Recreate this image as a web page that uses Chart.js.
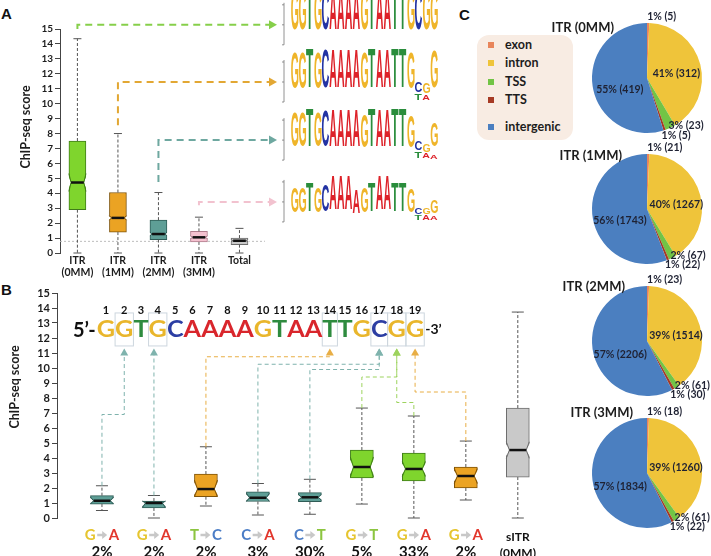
<!DOCTYPE html>
<html>
<head>
<meta charset="utf-8">
<script src="https://cdn.jsdelivr.net/npm/chart.js@4.4.1/dist/chart.umd.min.js"></script>
<style>
  body { margin: 0; background: #fff; font-family: Lato, sans-serif; }
  #page { position: relative; width: 711px; height: 556px; overflow: hidden; }
  canvas { position: absolute; }
  .tag { position: absolute; font: bold 15px "Liberation Sans", Arial, sans-serif; color: #111; }
  #legend { position: absolute; left: 477px; top: 35px; width: 96px; height: 105px; background: #f8ece3; border-radius: 12px; }
  .item { position: absolute; left: 28px; font: bold 12.5px Lato, sans-serif; color: #1d1d1d; line-height: 14px; }
  .item i { position: absolute; left: -17px; top: 4px; width: 6px; height: 6px; }
</style>
</head>
<body>
<div id="page">
  <div class="tag" style="left:1px;top:5px">A</div>
  <div class="tag" style="left:1px;top:281px">B</div>
  <div class="tag" style="left:459px;top:6px">C</div>
  <div id="legend"></div>
</div>
<script>
// ---- panel A: ChIP-seq score per mismatch group
const labelsA = ['ITR (0MM)', 'ITR (1MM)', 'ITR (2MM)', 'ITR (3MM)', 'Total'];
const lowA = [0, 0, 0, 0, 0];
const q1A = [2.9, 1.4, 0.9, 0.74, 0.56];
const medA = [4.72, 2.35, 1.27, 1.05, 0.82];
const q3A = [7.5, 4.05, 2.2, 1.45, 1.0];
const highA = [14.35, 8.0, 4.05, 2.4, 1.65];
const notchA = [0.6, 0.15, 0.12, 0.1, 0.06];
const cutoffA = 0.78;
const arrowFromA = [15.0, 8.55, 4.76, 3.2];
const arrowLevelA = [15.28, 11.45, 7.56, 3.42];

// sequence logos (bits, max 2) for the four groups
const logoMotif = 'GGTGCAAAAGTAATTGCGG';
const logoBits = [
  [2, 2, 2, 2, 2, 2, 2, 2, 2, 2, 2, 2, 2, 2, 2, 2, 2, 2, 2],
  [1.8, 1.8, 1.95, 1.8, 1.9, 1.85, 1.85, 1.85, 1.85, 1.8, 1.95, 1.85, 1.85, 1.95, 1.95, 1.8, 0.55, 0.55, 1.85],
  [1.7, 1.7, 1.85, 1.7, 1.75, 1.8, 1.8, 1.8, 1.8, 1.65, 1.85, 1.8, 1.8, 1.85, 1.85, 1.6, 0.45, 0.4, 1.2],
  [1.25, 1.25, 1.4, 1.25, 1.3, 1.7, 1.7, 1.7, 1.15, 1.25, 1.4, 1.7, 1.7, 1.4, 1.4, 1.2, 0.35, 0.35, 0.65]
];
const logoMinorBase = ['T', 'A', 'A'];          // under positions 17, 18, 19
const logoMinorBits = [[0, 0, 0], [0.3, 0.25, 0], [0.3, 0.25, 0.2], [0.25, 0.25, 0.2]];

// ---- panel B: single mismatches
const seqLetters = 'GGTGCAAAAGTAATTGCGG'.split('');
const mutFrom = ['G', 'G', 'T', 'C', 'C', 'G', 'G', 'G'];
const mutTo = ['A', 'A', 'C', 'A', 'T', 'T', 'A', 'A'];
const mutPct = ['2%', '2%', '2%', '3%', '30%', '5%', '33%', '2%'];
const mutPos = [2, 4, 14, 17, 17, 18, 18, 19];
const turnB = [6.9, null, 10.75, 10.25, 9.9, 9.4, 7.7, 8.4];
const lowB = [0.5, 0, 0.8, 0.2, 0.25, 0.93, 0, 1.2, 0];
const q1B = [0.93, 0.67, 1.42, 1.1, 1.09, 2.67, 2.47, 2.0, 2.73];
const medB = [1.15, 1.0, 1.93, 1.35, 1.38, 3.4, 3.27, 2.8, 4.53];
const q3B = [1.49, 1.13, 2.93, 1.75, 1.69, 4.53, 4.33, 3.4, 7.33];
const highB = [2.15, 1.5, 4.75, 2.3, 2.58, 7.33, 6.8, 5.13, 13.73];
const notchB = [0.25, 0.3, 0.6, 0.3, 0.2, 0.67, 0.5, 0.5, 0.55];

// ---- panel C: genomic annotation
const pieCategories = ['exon', 'intron', 'TSS', 'TTS', 'intergenic'];
const pieTitles = ['ITR (0MM)', 'ITR (1MM)', 'ITR (2MM)', 'ITR (3MM)'];
const counts0MM = [5, 312, 23, 5, 419];
const counts1MM = [21, 1267, 67, 22, 1743];
const counts2MM = [23, 1514, 61, 30, 2206];
const counts3MM = [18, 1260, 61, 22, 1834];
const pct0MM = [1, 41, 3, 1, 55];
const pct1MM = [1, 40, 2, 1, 56];
const pct2MM = [1, 39, 2, 1, 57];
const pct3MM = [1, 39, 2, 1, 57];

// colours
const GREEN = ['#7fd52d', '#3f7d18'], ORANGE = ['#eba323', '#7f5309'], TEAL = ['#5e9e96', '#2f5c56'];
const PINK = ['#f4c1cf', '#b07c8c'], GRAY = ['#c9c9c9', '#6d6d6d'];
const boxColA = [GREEN, ORANGE, TEAL, PINK, GRAY];
const arrowColA = ['#86cf4a', '#e2a733', '#6ea8a0', '#f2c2cf'];
const boxColB = [TEAL, TEAL, ORANGE, TEAL, TEAL, GREEN, GREEN, ORANGE, GRAY];
const arrowColB = ['#7fb3ad', '#7fb3ad', '#e8ae45', '#7fb3ad', '#7fb3ad', '#9dd35e', '#9dd35e', '#e8ae45'];
const logoCol = { G: '#efb52a', T: '#2a8d3c', C: '#2333a3', A: '#dd2229' };
const seqCol = { G: '#e9b62c', T: '#2e8b3e', C: '#2c3ea3', A: '#d9262c' };
const mutCol = { G: '#e6c52f', T: '#8cc540', C: '#4b7dc6', A: '#e2372d' };
const pieColors = ['#e8855b', '#efc43a', '#72c445', '#a63a24', '#4b7fc0'];

Chart.defaults.font.family = 'Lato, "Open Sans", sans-serif';
Chart.defaults.animation = false;
Chart.defaults.responsive = false;
Chart.defaults.plugins.legend.display = false;
Chart.defaults.plugins.tooltip.enabled = false;

function makeCanvas(left, top, w, h) {
  const c = document.createElement('canvas');
  c.width = w; c.height = h;
  c.style.left = left + 'px'; c.style.top = top + 'px';
  c.style.width = w + 'px'; c.style.height = h + 'px';
  document.getElementById('page').appendChild(c);
  return c;
}

// whiskers, notches and median on top of the floating bars
function drawBoxDetails(chart, s) {
  const ctx = chart.ctx, y = chart.scales.y;
  chart.getDatasetMeta(0).data.forEach((bar, i) => {
    const cx = bar.x, hw = bar.width / 2, l = cx - hw, r = cx + hw, d = hw * s.depth;
    const yTop = y.getPixelForValue(s.q3[i]), yBot = y.getPixelForValue(s.q1[i]);
    const yMed = y.getPixelForValue(s.med[i]);
    const nT = Math.max(yTop, y.getPixelForValue(s.med[i] + s.notch[i]));
    const nB = Math.min(yBot, y.getPixelForValue(s.med[i] - s.notch[i]));
    const yHi = y.getPixelForValue(s.high[i]), yLo = y.getPixelForValue(s.low[i]);
    ctx.save();
    ctx.strokeStyle = '#555'; ctx.lineWidth = 1;
    ctx.setLineDash([3, 2]);
    ctx.beginPath();
    ctx.moveTo(cx, yTop); ctx.lineTo(cx, yHi);
    ctx.moveTo(cx, yBot); ctx.lineTo(cx, yLo);
    ctx.stroke();
    ctx.setLineDash([]);
    ctx.beginPath();
    ctx.moveTo(cx - s.capW / 2, yHi); ctx.lineTo(cx + s.capW / 2, yHi);
    ctx.moveTo(cx - s.capW / 2, yLo); ctx.lineTo(cx + s.capW / 2, yLo);
    ctx.stroke();
    // cut the notch
    ctx.fillStyle = '#fff';
    ctx.beginPath();
    ctx.moveTo(l - 1.5, nT); ctx.lineTo(l + d, yMed); ctx.lineTo(l - 1.5, nB); ctx.closePath();
    ctx.moveTo(r + 1.5, nT); ctx.lineTo(r - d, yMed); ctx.lineTo(r + 1.5, nB); ctx.closePath();
    ctx.fill();
    ctx.strokeStyle = s.colors[i][1];
    ctx.beginPath();
    ctx.moveTo(l, nT); ctx.lineTo(l + d, yMed); ctx.lineTo(l, nB);
    ctx.moveTo(r, nT); ctx.lineTo(r - d, yMed); ctx.lineTo(r, nB);
    ctx.stroke();
    ctx.strokeStyle = '#111'; ctx.lineWidth = 2.5;
    ctx.beginPath(); ctx.moveTo(l + d, yMed); ctx.lineTo(r - d, yMed); ctx.stroke();
    ctx.restore();
  });
}

function drawGlyph(ctx, ch, x, yBottom, w, h, color) {
  if (h <= 0) return;
  ctx.save();
  ctx.font = 'bold 100px "Liberation Sans", Arial, sans-serif';
  const m = ctx.measureText(ch);
  const gw = m.actualBoundingBoxLeft + m.actualBoundingBoxRight;
  const gh = m.actualBoundingBoxAscent + m.actualBoundingBoxDescent;
  ctx.translate(x, yBottom);
  ctx.scale(w / gw, h / gh);
  ctx.fillStyle = color;
  ctx.textAlign = 'left'; ctx.textBaseline = 'alphabetic';
  ctx.fillText(ch, m.actualBoundingBoxLeft, -m.actualBoundingBoxDescent);
  ctx.restore();
}

function drawLogo(ctx, row, x0, yc) {
  const full = 40, colW = 7.75, base = yc + 20;
  ctx.save();
  ctx.strokeStyle = '#777'; ctx.lineWidth = 0.8;
  ctx.beginPath();
  ctx.moveTo(x0, yc - 22); ctx.lineTo(x0, base);
  [0, 1, 2].forEach(b => { ctx.moveTo(x0 - 2, base - b * full / 2); ctx.lineTo(x0, base - b * full / 2); });
  ctx.stroke();
  ctx.restore();
  for (let p = 0; p < logoMotif.length; p++) {
    const lx = x0 + 3 + p * colW;
    let yb = base;
    if (p >= 16) {
      const mh = logoMinorBits[row][p - 16] * full / 2;
      const mc = logoMinorBase[p - 16];
      drawGlyph(ctx, mc, lx, yb, colW - 0.6, mh, logoCol[mc]);
      yb -= mh;
    }
    const ch = logoMotif[p];
    drawGlyph(ctx, ch, lx, yb, colW - 0.6, logoBits[row][p] * full / 2, logoCol[ch]);
  }
}

function drawYTitle(ctx, x, y, size) {
  ctx.save();
  ctx.translate(x, y); ctx.rotate(-Math.PI / 2);
  ctx.font = 'bold ' + size + 'px Lato'; ctx.fillStyle = '#1d1d1d';
  ctx.textAlign = 'center'; ctx.textBaseline = 'middle';
  ctx.fillText('ChIP-seq score', 0, 0);
  ctx.restore();
}

function yAxis(width, fontSize) {
  return {
    min: 0, max: 15,
    ticks: { stepSize: 1, autoSkip: false, color: '#1d1d1d', padding: 2, font: { size: fontSize, weight: 'bold' } },
    grid: { drawOnChartArea: false, tickLength: 5, color: '#444' },
    border: { color: '#444' },
    afterFit: s => { s.width = width; }
  };
}

// ---------------- panel A
const panelA = {
  id: 'panelA',
  beforeDatasetsDraw(chart) {
    const { ctx, chartArea: a, scales: { y } } = chart;
    const yy = y.getPixelForValue(cutoffA);
    ctx.save();
    ctx.strokeStyle = '#bdbdbd'; ctx.setLineDash([2, 2]); ctx.lineWidth = 1;
    ctx.beginPath(); ctx.moveTo(a.left, yy); ctx.lineTo(a.right, yy); ctx.stroke();
    ctx.restore();
  },
  afterDatasetsDraw(chart) {
    drawBoxDetails(chart, { low: lowA, q1: q1A, med: medA, q3: q3A, high: highA, notch: notchA, colors: boxColA, depth: 0.25, capW: 8 });
    const { ctx, chartArea: a, scales: { y } } = chart;
    const bars = chart.getDatasetMeta(0).data;
    ctx.save();
    ctx.fillStyle = '#1d1d1d'; ctx.font = 'bold 10.5px Lato';
    ctx.textAlign = 'center'; ctx.textBaseline = 'middle';
    labelsA.forEach((lab, i) => {
      lab.split(' ').forEach((part, j) => ctx.fillText(part, bars[i].x, a.bottom + 8 + j * 12));
    });
    arrowLevelA.forEach((lv, i) => {
      const bx = bars[i].x, yl = y.getPixelForValue(lv), y0 = y.getPixelForValue(arrowFromA[i]);
      const tip = a.right + 12;
      ctx.strokeStyle = arrowColA[i]; ctx.lineWidth = 2; ctx.setLineDash([7, 5]);
      ctx.beginPath(); ctx.moveTo(bx, y0); ctx.lineTo(bx, yl); ctx.lineTo(tip - 7, yl); ctx.stroke();
      ctx.setLineDash([]);
      ctx.fillStyle = arrowColA[i];
      ctx.beginPath(); ctx.moveTo(tip, yl); ctx.lineTo(tip - 8, yl - 4.5); ctx.lineTo(tip - 8, yl + 4.5); ctx.closePath(); ctx.fill();
      drawLogo(ctx, i, tip + 7, yl);
    });
    ctx.restore();
    drawYTitle(ctx, 26, 127, 12.5);
  }
};

new Chart(makeCanvas(0, 0, 450, 280), {
  type: 'bar',
  data: {
    datasets: [{
      data: labelsA.map((l, i) => ({ x: i, y: [q1A[i], q3A[i]] })),
      backgroundColor: boxColA.map(c => c[0]),
      borderColor: boxColA.map(c => c[1]),
      borderWidth: 1, borderSkipped: false, barThickness: 17
    }]
  },
  options: {
    layout: { padding: { left: 0, right: 185, top: 29, bottom: 27 } },
    scales: {
      x: { type: 'linear', offset: false, min: -0.43, max: 4.63, display: false },
      y: yAxis(60, 10)
    }
  },
  plugins: [panelA]
});

// ---------------- panel B
const panelB = {
  id: 'panelB',
  afterDatasetsDraw(chart) {
    drawBoxDetails(chart, { low: lowB, q1: q1B, med: medB, q3: q3B, high: highB, notch: notchB, colors: boxColB, depth: 0.27, capW: 12 });
    const { ctx, chartArea: a, scales: { x, y } } = chart;
    ctx.save();
    // consensus sequence
    ctx.font = 'bold 23px Lato';
    const left = x.getPixelForValue(-0.1), right = x.getPixelForValue(6.2);
    const ws = seqLetters.map(c => ctx.measureText(c).width);
    const sx = (right - left) / ws.reduce((s, w) => s + w, 0);
    const base = y.getPixelForValue(12.05);
    const centers = [];
    let cur = left;
    ws.forEach(w => { centers.push(cur + w * sx / 2); cur += w * sx; });
    ctx.strokeStyle = '#cdd6de'; ctx.lineWidth = 1;
    [...new Set(mutPos)].forEach(p => {
      const w = ws[p - 1] * sx, yt = y.getPixelForValue(13.67), yb = y.getPixelForValue(11.47);
      ctx.strokeRect(centers[p - 1] - w / 2, yt, w, yb - yt);
    });
    ctx.textAlign = 'center'; ctx.textBaseline = 'alphabetic';
    seqLetters.forEach((c, i) => {
      ctx.save(); ctx.translate(centers[i], base); ctx.scale(sx, 1);
      ctx.fillStyle = seqCol[c]; ctx.fillText(c, 0, 0);
      ctx.restore();
    });
    ctx.fillStyle = '#111';
    ctx.textAlign = 'right'; ctx.font = 'bold 20px Lato';
    ctx.fillText("5\u2019-", left - 1, base);
    ctx.textAlign = 'left'; ctx.font = 'bold 14px Lato';
    ctx.fillText("-3\u2019", right + 1, base - 3);
    ctx.textAlign = 'center'; ctx.textBaseline = 'middle'; ctx.font = 'bold 11px Lato';
    seqLetters.forEach((c, i) => ctx.fillText(String(i + 1), centers[i], y.getPixelForValue(13.85)));
    // connectors from boxes to the mutated positions
    const tipY = y.getPixelForValue(11.3);
    mutPos.forEach((p, i) => {
      const bx = x.getPixelForValue(i);
      const tx = turnB[i] === null ? bx : centers[p - 1];
      ctx.strokeStyle = arrowColB[i]; ctx.lineWidth = 1; ctx.setLineDash([4, 3]);
      ctx.beginPath();
      ctx.moveTo(bx, y.getPixelForValue(highB[i]));
      if (turnB[i] !== null) {
        const yt = y.getPixelForValue(turnB[i]);
        ctx.lineTo(bx, yt); ctx.lineTo(tx, yt);
      }
      ctx.lineTo(tx, tipY + 6);
      ctx.stroke();
      ctx.setLineDash([]);
      ctx.fillStyle = arrowColB[i];
      ctx.beginPath(); ctx.moveTo(tx, tipY); ctx.lineTo(tx - 4, tipY + 7); ctx.lineTo(tx + 4, tipY + 7); ctx.closePath(); ctx.fill();
    });
    // category labels
    ctx.textBaseline = 'middle';
    mutFrom.forEach((f, i) => {
      const cx = x.getPixelForValue(i), ly = a.bottom + 17;
      ctx.font = 'bold 15px Lato';
      const w1 = ctx.measureText(f).width, w2 = ctx.measureText(mutTo[i]).width, aw = 10, gap = 1.5;
      let xx = cx - (w1 + w2 + aw + 2 * gap) / 2;
      ctx.textAlign = 'left';
      ctx.fillStyle = mutCol[f]; ctx.fillText(f, xx, ly);
      xx += w1 + gap;
      ctx.fillStyle = '#c8c8c8'; ctx.strokeStyle = '#c8c8c8'; ctx.lineWidth = 2.5;
      ctx.beginPath(); ctx.moveTo(xx, ly); ctx.lineTo(xx + aw - 4, ly); ctx.stroke();
      ctx.beginPath(); ctx.moveTo(xx + aw, ly); ctx.lineTo(xx + aw - 5, ly - 4); ctx.lineTo(xx + aw - 5, ly + 4); ctx.closePath(); ctx.fill();
      xx += aw + gap;
      ctx.fillStyle = mutCol[mutTo[i]]; ctx.fillText(mutTo[i], xx, ly);
      ctx.textAlign = 'center'; ctx.fillStyle = '#111';
      ctx.fillText(mutPct[i], cx, a.bottom + 34);
    });
    ctx.font = 'bold 12px Lato'; ctx.fillStyle = '#111';
    ctx.fillText('sITR', x.getPixelForValue(8), a.bottom + 19);
    ctx.fillText('(0MM)', x.getPixelForValue(8), a.bottom + 35);
    ctx.restore();
    drawYTitle(ctx, 15, 115, 12.5);
  }
};

new Chart(makeCanvas(0, 272, 550, 284), {
  type: 'bar',
  data: {
    datasets: [{
      data: q1B.map((v, i) => ({ x: i, y: [q1B[i], q3B[i]] })),
      backgroundColor: boxColB.map(c => c[0]),
      borderColor: boxColB.map(c => c[1]),
      borderWidth: 1, borderSkipped: false, barThickness: 23
    }]
  },
  options: {
    layout: { padding: { left: 0, right: 1, top: 21, bottom: 38 } },
    scales: {
      x: { type: 'linear', offset: false, min: -0.865, max: 8.6, display: false },
      y: yAxis(57, 11)
    }
  },
  plugins: [panelB]
});

// ---------------- panel C
const legend = document.getElementById('legend');
const legendY = [3, 21, 40, 58, 85];
pieCategories.forEach((c, i) => {
  const d = document.createElement('div');
  d.className = 'item'; d.style.top = legendY[i] + 'px';
  d.innerHTML = '<i style="background:' + pieColors[i] + '"></i>' + c;
  legend.appendChild(d);
});

const pieCounts = [counts0MM, counts1MM, counts2MM, counts3MM];
const piePct = [pct0MM, pct1MM, pct2MM, pct3MM];
const pieCenterY = [77.5, 208.5, 341, 473];
const pieTitleRight = [614, 622, 625, 633];
const pieTitleY = [27, 155, 287, 413];

pieTitles.forEach((title, k) => {
  const top = pieCenterY[k] - 75;
  new Chart(makeCanvas(550, top, 161, 150), {
    type: 'pie',
    data: {
      labels: pieCategories,
      datasets: [{ data: pieCounts[k], backgroundColor: pieColors, borderWidth: 0 }]
    },
    options: { layout: { padding: { left: 42, right: 9, top: 20, bottom: 20 } } },
    plugins: [{
      id: 'pieText',
      afterDatasetsDraw(chart) {
        const ctx = chart.ctx;
        ctx.save();
        ctx.font = 'bold 13px Lato'; ctx.fillStyle = '#1d1d1d';
        ctx.textAlign = 'right'; ctx.textBaseline = 'middle';
        ctx.fillText(title, pieTitleRight[k] - 550, pieTitleY[k] - top);
        ctx.font = 'bold 10.5px Lato'; ctx.fillStyle = '#1f2233';
        chart.getDatasetMeta(0).data.forEach((arc, j) => {
          const mid = (arc.startAngle + arc.endAngle) / 2, R = arc.outerRadius;
          const ex = arc.x + R * Math.cos(mid), ey = arc.y + R * Math.sin(mid);
          const text = piePct[k][j] + '% (' + pieCounts[k][j] + ')';
          if (j === 0) { ctx.textAlign = 'left'; ctx.fillText(text, ex - 1, ey - 6); }
          else if (j === 1) { ctx.textAlign = 'center'; ctx.fillText(text, arc.x + 0.55 * R * Math.cos(mid), arc.y + 0.55 * R * Math.sin(mid) + 3); }
          else if (j === 2) { ctx.textAlign = 'left'; ctx.fillText(text, ex - 2, ey - 2); }
          else if (j === 3) { ctx.textAlign = 'left'; ctx.fillText(text, ex - 3, ey + 5); }
          else { ctx.textAlign = 'center'; ctx.fillText(text, arc.x + 0.5 * R * Math.cos(mid), arc.y + 0.5 * R * Math.sin(mid) + 7); }
        });
        ctx.restore();
      }
    }]
  });
});
</script>
</body>
</html>
